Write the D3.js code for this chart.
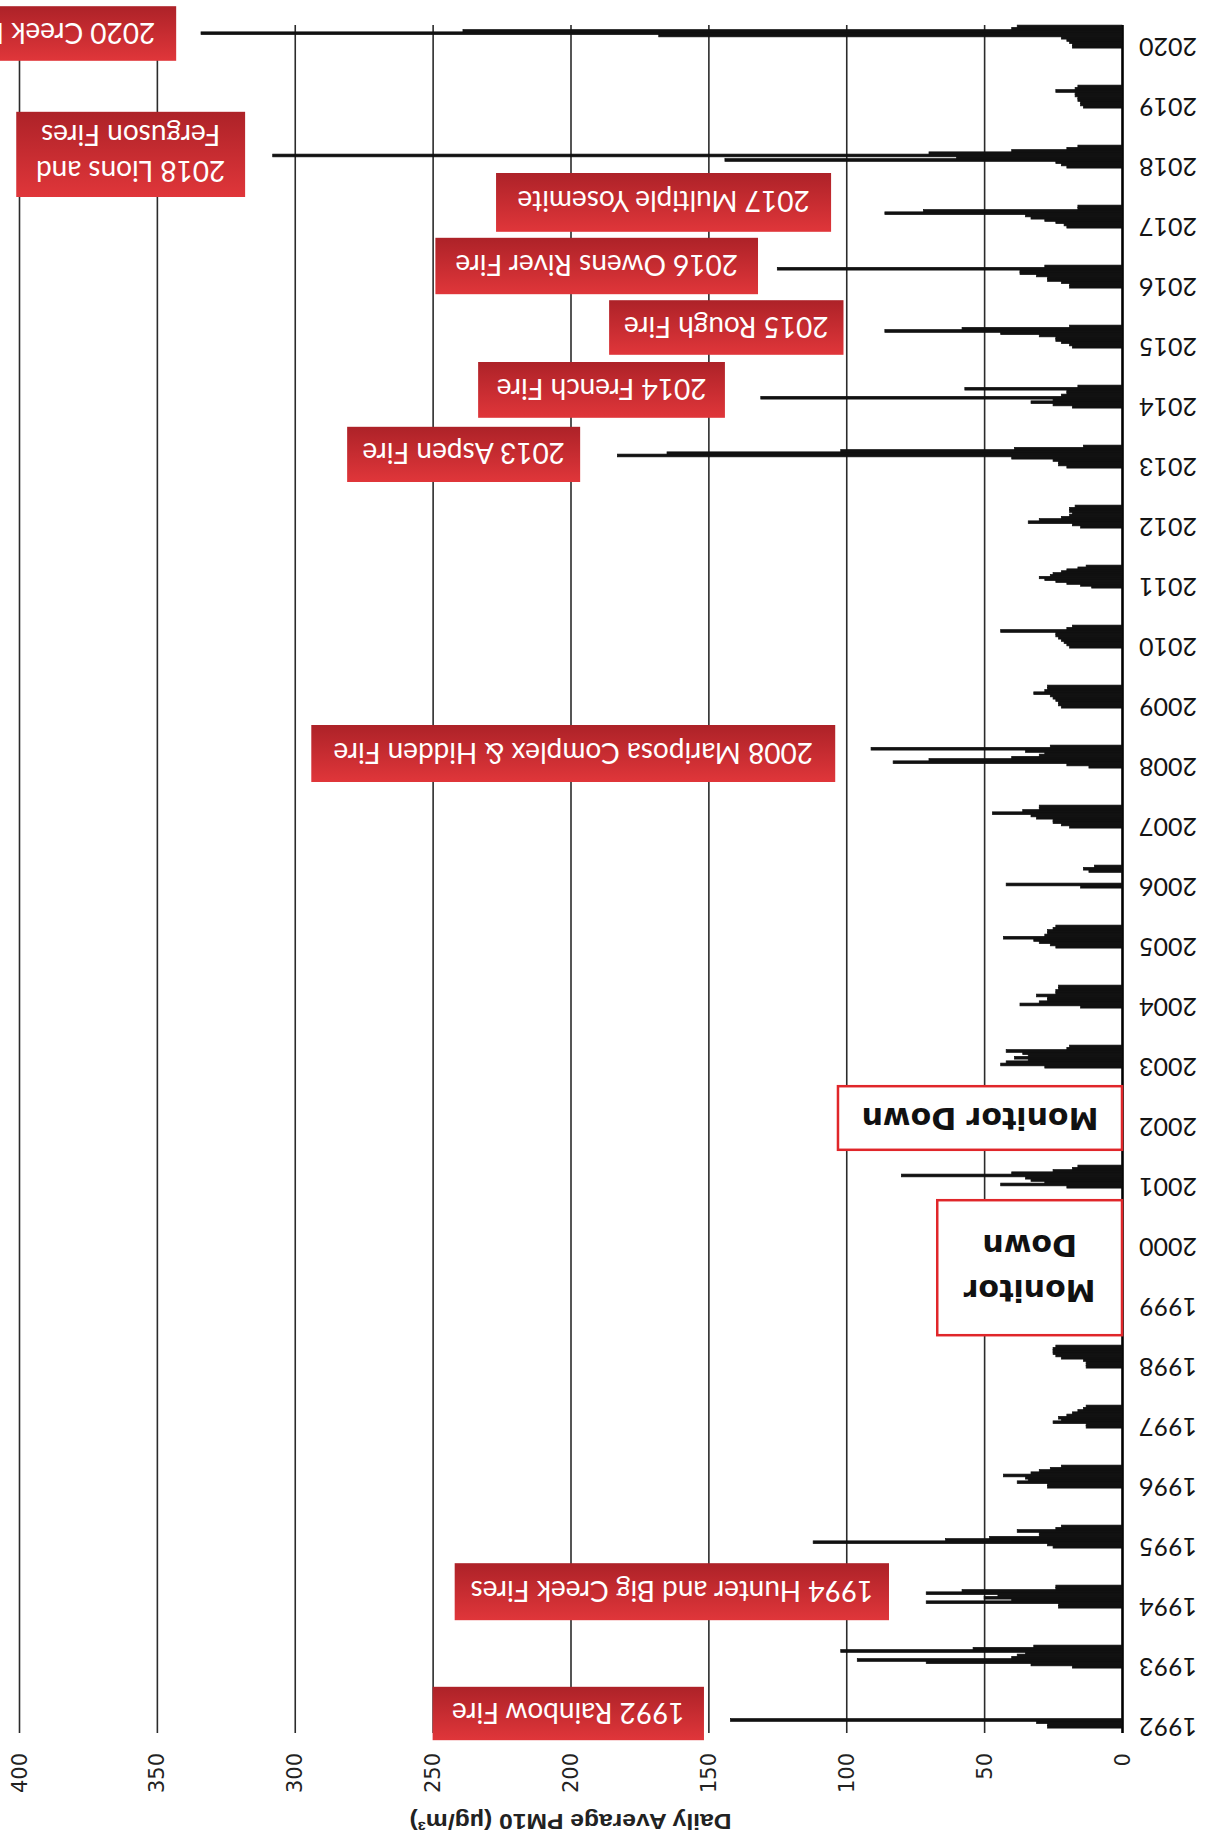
<!DOCTYPE html>
<html>
<head>
<meta charset="utf-8">
<script src="https://cdn.jsdelivr.net/npm/d3@7"></script>
<style>
  body { margin: 0; background: #fff; }
  svg { display: block; }
</style>
</head>
<body>
<div id="chart"></div>
<script>
// tick labels
const yearTicks = [1992, 1993, 1994, 1995, 1996, 1997, 1998, 1999, 2000, 2001, 2002, 2003, 2004, 2005,
    2006, 2007, 2008, 2009, 2010, 2011, 2012, 2013, 2014, 2015, 2016, 2017, 2018, 2019, 2020];
const valueTicks = [0, 50, 100, 150, 200, 250, 300, 350, 400];

// daily PM10 through each fire season (oldest day first), null = no reading
const dataYears = [1992, 1993, 1994, 1995, 1996, 1997, 1998, 2001, 2003, 2004, 2005, 2006, 2007,
    2008, 2009, 2010, 2011, 2012, 2013, 2014, 2015, 2016, 2017, 2018, 2019, 2020];
const dailyPM10 = [
    [27, 27, 31, 142, null, null, null, null, null, null],
    [18, 33, 71, 96, 40, 38, 35, 102, 54, 32],
    [23, 23, 71, 40, 50, 45, 71, 58, 24, 24],
    [25, 27, 112, 64, 48, 30, 30, 38, 24, 22],
    [27, 27, 38, 34, 35, 43, 33, 30, 26, 22],
    [13, 13, 25, 22, 23, 20, 18, 16, 14, 13],
    [13, 13, 13, 14, 22, 24, 25, 25, 25, 24],
    [20, 44, 28, 33, 35, 80, 40, 25, 18, 16],
    [28, 44, 42, 34, 39, 34, 36, 42, 20, 19],
    [15, 37, 30, 27, 27, 31, 24, 24, 23, 23],
    [24, 26, 30, 32, 43, 28, 27, 27, 25, 24],
    [15, 42, null, null, null, null, null, 12, 14, 10],
    [19, 22, 25, 25, 31, 33, 47, 36, 30, 30],
    [12, 20, 83, 70, 40, 30, 28, 35, 91, 26],
    [22, 23, 23, 24, 25, 26, 32, 28, 27, 27],
    [19, 20, 21, 22, 23, 24, 24, 44, 20, 18],
    [11, 15, 20, 24, 28, 30, 26, 25, 22, 20, 16, 13],
    [15, 18, 34, 30, 22, 19, 18, 19, 19, 17],
    [20, 23, 23, 25, 40, 183, 165, 102, 39, 14],
    [18, 25, 33, 25, 131, 22, 20, 20, 57, 16],
    [18, 19, 22, 24, 24, 30, 44, 86, 58, 19],
    [19, 19, 22, 27, 27, 31, 37, 37, 125, 28],
    [20, 21, 24, 28, 33, 35, 86, 72, 16, 16],
    [20, 22, 24, 144, 60, 308, 70, 40, 20, 16],
    [14, 15, 15, 16, 16, 17, 17, 24, 17, 16],
    [18, 18, 19, 20, 22, 168, 334, 239, 40, 38]
];

// fire call-outs and monitor outages
const fireNotes = [["2020 Creek Fire"], ["2018 Lions and", "Ferguson Fires"], ["2017 Multiple Yosemite"],
    ["2016 Owens River Fire"], ["2015 Rough Fire"], ["2014 French Fire"], ["2013 Aspen Fire"],
    ["2008 Mariposa Complex & Hidden Fire"], ["1994 Hunter and Big Creek Fires"], ["1992 Rainbow Fire"]];
const downNotes = [["Monitor Down"], ["Monitor", "Down"]];

// where the boxes sit, in year / PM10 units
const fireSpots = [
    [2019.77, 2020.68, 343, 430], [2017.50, 2018.92, 318, 401], [2016.92, 2017.90, 105.5, 227],
    [2015.88, 2016.82, 132, 249], [2014.87, 2015.78, 101, 186], [2013.82, 2014.75, 144, 233.5],
    [2012.75, 2013.67, 196.5, 281], [2007.75, 2008.70, 104, 294], [1993.78, 1994.73, 84.5, 242],
    [1991.78, 1992.67, 151.6, 250]
];
const downSpots = [[2001.62, 2002.68, 0, 103], [1998.53, 2000.78, 0, 67]];

const W = 1209, H = 1841;
const plotTop = 25, plotBottom = 1733;

const svg = d3.select("#chart").append("svg")
    .attr("width", W)
    .attr("height", H);

// the page is the chart turned a quarter turn: values run right-to-left, years bottom-to-top
const x = d3.scaleLinear().domain([0, 400]).range([1122, 19]);
const y = d3.scaleLinear().domain([1992, 2020]).range([1727, 47]);

const grad = svg.append("defs").append("linearGradient")
    .attr("id", "redbox").attr("x1", 0).attr("y1", 0).attr("x2", 0).attr("y2", 1);
grad.append("stop").attr("offset", "0%").attr("stop-color", "#ad2228");
grad.append("stop").attr("offset", "100%").attr("stop-color", "#e0363a");

// grid + value axis
const xAxis = svg.append("g")
    .attr("transform", `translate(0, ${plotBottom})`)
    .call(d3.axisBottom(x).tickValues(valueTicks).tickSize(-(plotBottom - plotTop)).tickSizeOuter(0));
xAxis.select(".domain").remove();
xAxis.selectAll(".tick line")
    .attr("stroke", d => d === 0 ? "#000" : "#2b2b2b")
    .attr("stroke-width", d => d === 0 ? 2.6 : 1.6);
xAxis.selectAll(".tick text")
    .attr("x", 0).attr("y", 0).attr("dy", null)
    .attr("transform", "translate(0, 20) rotate(-90)")
    .attr("text-anchor", "end")
    .attr("dominant-baseline", "central")
    .style("font-family", "DejaVu Sans")
    .style("font-size", "21px")
    .attr("fill", "#222");

// year axis
const yAxis = svg.append("g")
    .attr("transform", `translate(${x(0)}, 0)`)
    .call(d3.axisRight(y).tickValues(yearTicks).tickFormat(d3.format("d")).tickSize(0));
yAxis.select(".domain").remove();
yAxis.selectAll(".tick text")
    .attr("x", 0).attr("dy", null)
    .attr("transform", "translate(46, 0) rotate(180)")
    .attr("text-anchor", "middle")
    .attr("dominant-baseline", "central")
    .style("font-family", "Lato")
    .style("font-size", "25px")
    .attr("fill", "#141414");

// daily bars
const span = 0.375, startOff = -0.01;
const bars = [];
dataYears.forEach((yr, k) => {
    const vals = dailyPM10[k];
    const step = span / vals.length;
    vals.forEach((v, i) => {
        if (v != null) bars.push({ yr, v, t0: yr + startOff + i * step, t1: yr + startOff + (i + 1) * step });
    });
});
svg.append("g").selectAll("rect")
    .data(bars)
    .join("rect")
    .attr("x", d => x(d.v))
    .attr("width", d => x(0) - x(d.v))
    .attr("y", d => y(d.t1))
    .attr("height", d => y(d.t0) - y(d.t1) + 0.5)
    .attr("fill", "#111")
    .attr("stroke", "#111")
    .attr("stroke-width", 0.7);

// axis title
svg.append("text")
    .attr("transform", `translate(${x(200)}, 1821) rotate(180)`)
    .attr("text-anchor", "middle")
    .attr("dominant-baseline", "central")
    .attr("textLength", 322)
    .attr("lengthAdjust", "spacingAndGlyphs")
    .style("font-family", "Liberation Sans")
    .style("font-weight", "bold")
    .style("font-size", "22px")
    .attr("fill", "#222")
    .text("Daily Average PM10 (µg/m³)");

// call-out boxes
function drawNote(g, spot, lines, opts) {
    const [t0, t1, v0, v1] = spot;
    const bx = x(v1), bw = x(v0) - x(v1);
    const by = y(t1), bh = y(t0) - y(t1);
    g.append("rect")
        .attr("x", bx).attr("y", by).attr("width", bw).attr("height", bh)
        .attr("fill", opts.fill)
        .attr("stroke", opts.stroke || "none")
        .attr("stroke-width", opts.strokeWidth || 0);
    const cx = bx + bw / 2, cy = by + bh / 2;
    const t = g.append("text")
        .attr("transform", `translate(${cx}, ${cy}) rotate(180)`)
        .attr("text-anchor", "middle")
        .style("font-family", opts.font)
        .style("font-weight", opts.weight)
        .style("font-size", opts.size + "px")
        .attr("fill", opts.color);
    lines.forEach((ln, i) => {
        t.append("tspan")
            .attr("x", 0)
            .attr("y", (i - (lines.length - 1) / 2) * opts.lead)
            .attr("dominant-baseline", "central")
            .text(ln);
    });
}

const notes = svg.append("g");
fireNotes.forEach((lines, i) => drawNote(notes, fireSpots[i], lines, {
    fill: "url(#redbox)", font: "Lato", weight: "normal", size: 28, color: "#fff", lead: 36
}));
downNotes.forEach((lines, i) => drawNote(notes, downSpots[i], lines, {
    fill: "#fff", stroke: "#e0262a", strokeWidth: 2.5, font: "DejaVu Sans", weight: "bold", size: 30, color: "#111", lead: 45
}));
</script>
</body>
</html>
